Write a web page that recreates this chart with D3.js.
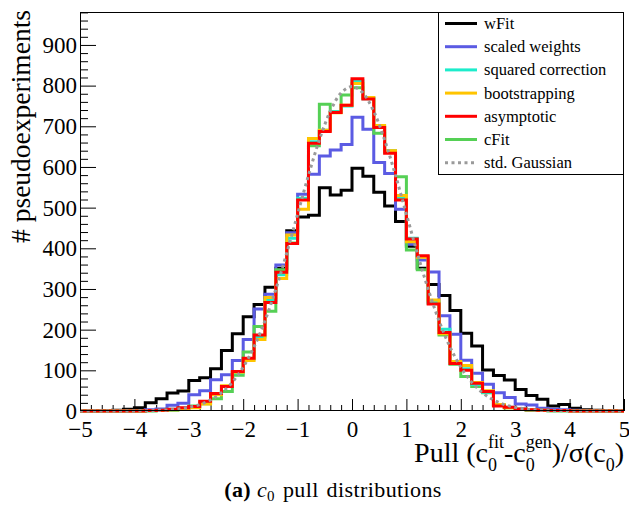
<!DOCTYPE html>
<html>
<head>
<meta charset="utf-8">
<script src="https://cdn.jsdelivr.net/npm/d3@7"></script>
<style>
  html, body { margin: 0; padding: 0; background: #fff; }
  svg { display: block; }
  svg text { font-family: "Liberation Serif", "Times New Roman", serif; }
</style>
</head>
<body>
<div id="chart"></div>
<script>
// Pull binning: 50 bins of width 0.2 on [-5, 5]
const pullRange = [-5, 5];
const binWidth = 0.2;

// Counts per bin (10000 pseudoexperiments per method)
const wFit = [0, 0, 1, 2, 4, 8, 20, 30, 44, 49,
  75, 82, 104, 149, 190, 232, 262, 304, 351, 443,
  477, 481, 549, 531, 543, 597, 577, 538, 504, 466,
  405, 351, 311, 284, 247, 191, 160, 101, 87, 76,
  53, 38, 29, 12, 16, 7, 3, 2, 1, 0];

const scaledWeights = [0, 0, 0, 0, 0, 1, 3, 5, 14, 19,
  40, 50, 77, 89, 124, 176, 251, 287, 359, 438,
  533, 582, 627, 642, 655, 722, 693, 611, 584, 496,
  410, 371, 342, 234, 189, 125, 93, 66, 45, 33,
  17, 15, 7, 4, 3, 2, 1, 0, 0, 0];

const squaredCorrection = [0, 0, 0, 0, 0, 0, 1, 2, 4, 7,
  10, 20, 41, 60, 94, 128, 182, 272, 335, 425,
  523, 662, 690, 736, 750, 812, 768, 698, 636, 525,
  425, 380, 268, 201, 120, 104, 65, 46, 14, 9,
  5, 3, 2, 1, 1, 0, 0, 0, 0, 0];

const bootstrapping = [0, 0, 0, 0, 0, 0, 1, 1, 3, 6,
  8, 17, 40, 62, 95, 124, 176, 279, 326, 433,
  496, 670, 690, 733, 752, 805, 771, 702, 640, 530,
  416, 378, 273, 190, 122, 112, 70, 50, 16, 8,
  4, 3, 2, 1, 1, 0, 0, 0, 0, 0];

const asymptotic = [0, 0, 0, 0, 0, 0, 1, 2, 4, 8,
  11, 24, 43, 60, 97, 130, 187, 267, 341, 412,
  519, 658, 687, 734, 752, 817, 767, 697, 634, 519,
  423, 382, 263, 193, 117, 100, 68, 48, 12, 9,
  5, 3, 2, 1, 1, 0, 0, 0, 0, 0];

const cFit = [0, 0, 0, 0, 0, 0, 0, 1, 2, 5,
  12, 18, 30, 48, 88, 145, 208, 245, 347, 413,
  520, 652, 754, 736, 777, 795, 770, 683, 640, 576,
  396, 347, 265, 187, 115, 85, 60, 45, 15, 8,
  4, 2, 1, 0, 0, 0, 0, 0, 0, 0];

// Reference standard Gaussian, sampled every 0.2 in pull
const gaussPull = [-5, -4.8, -4.6, -4.4, -4.2, -4, -3.8, -3.6, -3.4, -3.2,
  -3, -2.8, -2.6, -2.4, -2.2, -2, -1.8, -1.6, -1.4, -1.2,
  -1, -0.8, -0.6, -0.4, -0.2, 0, 0.2, 0.4, 0.6, 0.8,
  1, 1.2, 1.4, 1.6, 1.8, 2, 2.2, 2.4, 2.6, 2.8,
  3, 3.2, 3.4, 3.6, 3.8, 4, 4.2, 4.4, 4.6, 4.8, 5];
const gaussCount = [0, 0, 0, 0, 0.1, 0.3, 0.6, 1.2, 2.5, 4.8,
  8.9, 15.8, 27.2, 44.8, 70.9, 108.0, 157.9, 221.8, 299.5, 388.4,
  483.9, 579.4, 666.4, 736.5, 782.1, 797.9, 782.1, 736.5, 666.4, 579.4,
  483.9, 388.4, 299.5, 221.8, 157.9, 108.0, 70.9, 44.8, 27.2, 15.8,
  8.9, 4.8, 2.5, 1.2, 0.6, 0.3, 0.1, 0, 0, 0, 0];

// Axis ticks
const yMajorTicks = [0, 100, 200, 300, 400, 500, 600, 700, 800, 900];
const xMajorTicks = [-5, -4, -3, -2, -1, 0, 1, 2, 3, 4, 5];

const seriesNames = ["wFit", "scaled weights", "squared correction", "bootstrapping", "asymptotic", "cFit"];
const seriesColors = ["#000000", "#5b5be3", "#1ceccb", "#ffc400", "#ff0000", "#55d055"];
const seriesData = [wFit, scaledWeights, squaredCorrection, bootstrapping, asymptotic, cFit];
const gaussName = "std. Gaussian";
const gaussColor = "#9a9a9a";

const W = 629, H = 509;
const frame = { left: 80, right: 624, top: 12, bottom: 411 };
const yMax = 981;
const serif = "'Liberation Serif', 'Times New Roman', serif";

const svg = d3.select("#chart").append("svg")
  .attr("width", W).attr("height", H)
  .style("font-family", serif);

const x = d3.scaleLinear().domain(pullRange).range([frame.left, frame.right]);
const y = d3.scaleLinear().domain([0, yMax]).range([frame.bottom, frame.top]);

svg.append("defs").append("clipPath").attr("id", "plotClip")
  .append("rect")
  .attr("x", frame.left).attr("y", frame.top - 2)
  .attr("width", frame.right - frame.left).attr("height", frame.bottom - frame.top + 4);

// Minor and major ticks point into the frame
const yMinor = d3.range(0, yMax, 20).filter(v => v % 100 !== 0);
svg.append("g").attr("transform", `translate(${frame.left},0)`)
  .call(d3.axisLeft(y).tickValues(yMinor).tickSize(-8).tickFormat(""))
  .call(g => g.select(".domain").remove());
const yAxis = svg.append("g").attr("transform", `translate(${frame.left},0)`)
  .call(d3.axisLeft(y).tickValues(yMajorTicks).tickSize(-16).tickPadding(3))
  .call(g => g.select(".domain").remove());
yAxis.attr("font-family", null).attr("font-size", null);
yAxis.selectAll("text").style("font-family", serif).style("font-size", "23px").attr("fill", "#000");

const xMinor = d3.range(-50, 51, 2).map(v => v / 10).filter(v => Math.abs(v - Math.round(v)) > 1e-9);
svg.append("g").attr("transform", `translate(0,${frame.bottom})`)
  .call(d3.axisBottom(x).tickValues(xMinor).tickSize(-6).tickFormat(""))
  .call(g => g.select(".domain").remove());
const xAxis = svg.append("g").attr("transform", `translate(0,${frame.bottom})`)
  .call(d3.axisBottom(x).tickValues(xMajorTicks).tickSize(-12).tickPadding(10)
    .tickFormat(d => d < 0 ? "\u2212" + Math.abs(d) : String(d)))
  .call(g => g.select(".domain").remove());
xAxis.attr("font-family", null).attr("font-size", null);
xAxis.selectAll("text").style("font-family", serif).style("font-size", "23px").attr("fill", "#000");
svg.selectAll(".tick line").attr("stroke", "#000").attr("stroke-width", 1);

// Histograms as step outlines
const stepLine = d3.line()
  .x(d => x(d.edge))
  .y(d => y(d.count))
  .curve(d3.curveStepAfter);

function stepPoints(vals) {
  const pts = vals.map((v, i) => ({ edge: pullRange[0] + i * binWidth, count: v }));
  pts.push({ edge: pullRange[1], count: vals[vals.length - 1] });
  return pts;
}

const plot = svg.append("g").attr("clip-path", "url(#plotClip)");
const drawOrder = [0, 1, 5, 2, 3, 4];
drawOrder.forEach(k => {
  plot.append("path")
    .attr("d", stepLine(stepPoints(seriesData[k])))
    .attr("fill", "none")
    .attr("stroke", seriesColors[k])
    .attr("stroke-width", 3)
    .attr("stroke-linejoin", "miter");
});

// Standard Gaussian reference curve
const gaussLine = d3.line()
  .x((d, i) => x(gaussPull[i]))
  .y(d => y(d))
  .curve(d3.curveCatmullRom);
plot.append("path")
  .attr("d", gaussLine(gaussCount))
  .attr("fill", "none")
  .attr("stroke", gaussColor)
  .attr("stroke-width", 3)
  .attr("stroke-dasharray", "3,3.5");

// Frame
svg.append("rect")
  .attr("x", frame.left + 0.5).attr("y", frame.top + 0.5)
  .attr("width", frame.right - frame.left - 1).attr("height", frame.bottom - frame.top - 1)
  .attr("fill", "none").attr("stroke", "#000").attr("stroke-width", 1);

// Legend
const leg = { x: 438, y: 12, w: 186, h: 162, row0: 11.5, dy: 23.2 };
const legend = svg.append("g");
legend.append("rect")
  .attr("x", leg.x + 0.5).attr("y", leg.y + 0.5)
  .attr("width", leg.w - 1).attr("height", leg.h)
  .attr("fill", "#fff").attr("stroke", "#000").attr("stroke-width", 1);
const legendItems = seriesNames.map((n, k) => ({ name: n, color: seriesColors[k], dash: null }))
  .concat([{ name: gaussName, color: gaussColor, dash: "3,3.5" }]);
legendItems.forEach((it, k) => {
  const cy = leg.y + leg.row0 + k * leg.dy;
  legend.append("line")
    .attr("x1", 445).attr("x2", 477).attr("y1", cy).attr("y2", cy)
    .attr("stroke", it.color).attr("stroke-width", 3)
    .attr("stroke-dasharray", it.dash);
  legend.append("text")
    .attr("x", 484).attr("y", cy).attr("dy", "0.33em")
    .style("font-size", "16.5px").attr("fill", "#000")
    .text(it.name);
});

// Y axis title
svg.append("text")
  .attr("transform", `translate(30,${frame.top - 2}) rotate(-90)`)
  .attr("text-anchor", "end")
  .style("font-size", "27.5px").attr("fill", "#000")
  .text("# pseudoexperiments");

// X axis title with stacked sub/superscripts
const xt = svg.append("text")
  .attr("x", frame.right).attr("y", 462)
  .attr("text-anchor", "end")
  .style("font-size", "28px").attr("fill", "#000");
xt.append("tspan").text("Pull (c");
xt.append("tspan").style("font-size", "18px").attr("dy", 9).text("0");
xt.append("tspan").style("font-size", "18px").attr("dx", -9).attr("dy", -23).text("fit");
xt.append("tspan").attr("dy", 14).text("-c");
xt.append("tspan").style("font-size", "18px").attr("dy", 9).text("0");
xt.append("tspan").style("font-size", "18px").attr("dx", -9).attr("dy", -23).text("gen");
xt.append("tspan").attr("dy", 14).text(")/\u03c3(c");
xt.append("tspan").style("font-size", "18px").attr("dy", 9).text("0");
xt.append("tspan").attr("dy", -9).text(")");

// Caption
const cap = svg.append("text")
  .attr("x", 333).attr("y", 497)
  .attr("text-anchor", "middle")
  .style("font-size", "22px").style("letter-spacing", "0.4px").attr("fill", "#000");
cap.append("tspan").attr("font-weight", "bold").text("(a)");
cap.append("tspan").text(" ");
cap.append("tspan").attr("font-style", "italic").text("c");
cap.append("tspan").style("font-size", "15px").attr("dy", 4).text("0");
cap.append("tspan").attr("dy", -4).style("word-spacing", "2px").text(" pull distributions");
</script>
</body>
</html>
